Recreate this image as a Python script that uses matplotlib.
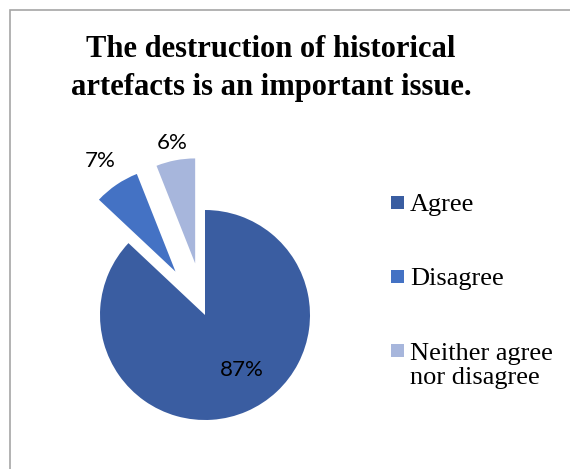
import matplotlib.pyplot as plt
from matplotlib.patches import Rectangle
import numpy as np

title = "The destruction of historical\nartefacts is an important issue."
labels = ["Agree", "Disagree", "Neither agree\nnor disagree"]
values = [87, 7, 6]
colors = ["#3A5DA1", "#4472C4", "#A7B6DC"]
explode = [0, 0.5, 0.5]
label_dist = [0.63, 1.27, 1.17]
label_turn = [10, 0, 0]  # degrees, nudges the label round the wedge

W, H = 570, 469
fig = plt.figure(figsize=(W / 100, H / 100), dpi=100)

# light grey chart frame (runs off the right and bottom edges)
fig.patches.append(Rectangle((10 / W, -0.1), 1.2, (H - 10) / H + 0.1,
                             transform=fig.transFigure, fill=False,
                             edgecolor="#A6A6A6", linewidth=1.2))

cx, cy, r = 205, 315, 105
ax = fig.add_axes([(cx - 150) / W, (H - cy - 150) / H, 300 / W, 400 / H])
wedges, _, pcts = ax.pie(values, colors=colors, startangle=90, counterclock=False,
                         explode=explode, autopct=lambda p: f"{p:.0f}%",
                         wedgeprops=dict(linewidth=0),
                         textprops=dict(family="Lato", fontsize=16, color="#000000"))
for w, t, d, a in zip(wedges, pcts, label_dist, label_turn):
    mid = np.deg2rad((w.theta1 + w.theta2) / 2 + a)
    x0, y0 = w.center
    t.set_position((x0 + d * np.cos(mid), y0 + d * np.sin(mid)))
ax.set_xlim(-150 / r, 150 / r)
ax.set_ylim(-150 / r, 250 / r)
ax.axis("off")

fig.text(271 / W, 1 - 95 / H, title, ha="center", va="baseline",
         family="Liberation Serif", weight="bold", fontsize=22, linespacing=1.42)

# legend drawn by hand to keep the wrapped label aligned on its first line
for i, (lab, col) in enumerate(zip(labels, colors)):
    base = 211 + 74 * i
    fig.patches.append(Rectangle((391 / W, 1 - (base - 2) / H), 13 / W, 13 / H,
                                 transform=fig.transFigure, facecolor=col,
                                 edgecolor="none"))
    last = base + 25 * lab.count("\n")
    fig.text(410 / W, 1 - last / H, lab, ha="left", va="baseline",
             family="Liberation Serif", fontsize=19, linespacing=1.12)

fig.savefig("out.png", dpi=100)
